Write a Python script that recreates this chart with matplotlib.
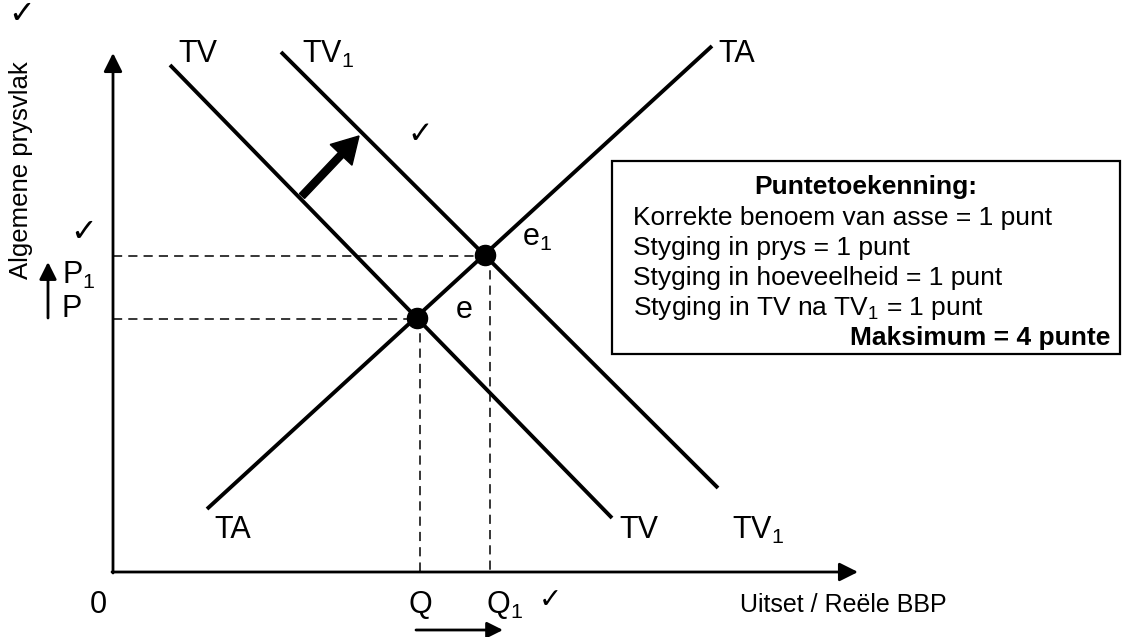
import matplotlib.pyplot as plt
import matplotlib as mpl
from matplotlib.patches import FancyArrow, Rectangle

mpl.rcParams['font.family'] = ['Liberation Sans', 'DejaVu Sans']
mpl.rcParams['mathtext.fontset'] = 'custom'
mpl.rcParams['mathtext.rm'] = 'Liberation Sans'
mpl.rcParams['mathtext.it'] = 'Liberation Sans'

# sketch coordinates (pixel grid of the original, y grows downwards)
origin = (113, 572)
x_axis_end = 858
y_axis_end = 53

# curves: x start, y start, x end, y end
tv_line = [170, 65, 612, 518]
tv1_line = [281, 52, 718, 488]
ta_line = [207, 509, 712, 46]

# equilibria e and e1
eq_x = [417, 485]
eq_y = [318, 255]
eq_names = ['e', 'e$_1$']
p_y = [319, 256]
q_x = [420, 490]

box_lines = ['Korrekte benoem van asse = 1 punt',
             'Styging in prys = 1 punt',
             'Styging in hoeveelheid = 1 punt',
             'Styging in TV na TV$_1$ = 1 punt']

fig = plt.figure(figsize=(11.29, 6.37), dpi=100)
ax = fig.add_axes([0, 0, 1, 1])
ax.set_xlim(0, 1129)
ax.set_ylim(637, 0)
ax.axis('off')

def arrow(x0, y0, x1, y1, lw=2, ms=28):
    ax.annotate('', xy=(x1, y1), xytext=(x0, y0),
                arrowprops=dict(arrowstyle='-|>', lw=lw, color='black',
                                mutation_scale=ms, shrinkA=0, shrinkB=0))

# axes
arrow(origin[0], origin[1] + 1, origin[0], y_axis_end)
arrow(origin[0] - 1, origin[1], x_axis_end, origin[1])

# curves
for ln in [tv_line, tv1_line, ta_line]:
    ax.plot([ln[0], ln[2]], [ln[1], ln[3]], color='black', lw=2.8, solid_capstyle='butt')

# dashed guides
for i in range(2):
    ax.plot([origin[0], eq_x[i]], [p_y[i], p_y[i]], color='black', lw=1.1, ls=(0, (6, 4)))
    ax.plot([q_x[i], q_x[i]], [eq_y[i], origin[1]], color='black', lw=1.1, ls=(0, (6, 4)))

ax.scatter(eq_x, eq_y, s=210, color='black', zorder=5)

fs = 22
ax.text(178, 54, 'TV', fontsize=fs, va='center', ha='left')
ax.text(302, 54, 'TV$_1$', fontsize=fs, va='center', ha='left')
ax.text(718, 54, 'TA', fontsize=fs, va='center', ha='left')
ax.text(214, 530, 'TA', fontsize=fs, va='center', ha='left')
ax.text(619, 530, 'TV', fontsize=fs, va='center', ha='left')
ax.text(732, 530, 'TV$_1$', fontsize=fs, va='center', ha='left')
ax.text(456, 310, eq_names[0], fontsize=fs, va='center', ha='left')
ax.text(522, 238, eq_names[1], fontsize=fs, va='center', ha='left')

ax.text(62, 275, 'P$_1$', fontsize=fs, va='center', ha='left')
ax.text(62, 309, 'P', fontsize=fs, va='center', ha='left')
arrow(48, 318, 48, 262, ms=26)

ax.text(90, 605, '0', fontsize=fs, va='center', ha='left')
ax.text(408, 605, 'Q', fontsize=fs, va='center', ha='left')
ax.text(486, 605, 'Q$_1$', fontsize=fs, va='center', ha='left')
ax.text(740, 605, 'Uitset / Re\u00eble BBP', fontsize=18, va='center', ha='left')
arrow(416, 630, 503, 630, ms=24)

ax.text(21, 170, 'Algemene prysvlak', fontsize=18.5, rotation=90, va='center', ha='center')

# ticks of the marker
ck = dict(va='center', ha='center', family=['DejaVu Sans'])
ax.text(22, 15, '\u2713', fontsize=23, **ck)
ax.text(84, 232, '\u2713', fontsize=23, **ck)
ax.text(420, 134, '\u2713', fontsize=22, **ck)
ax.text(550, 600, '\u2713', fontsize=20, **ck)

# shift of TV to TV1
ax.add_patch(FancyArrow(302, 196, 57, -60, width=7, head_width=30, head_length=26,
                        length_includes_head=True, color='black'))

# marking box
ax.add_patch(Rectangle((612, 161), 508, 193, fill=False, lw=1.6, color='black'))
ax.text(866, 187, 'Puntetoekenning:', fontsize=19, fontweight='bold', va='center', ha='center')
for i, t in enumerate(box_lines):
    ax.text(633, 218 + i * 30, t, fontsize=19, va='center', ha='left')
ax.text(1110, 338, 'Maksimum = 4 punte', fontsize=19, fontweight='bold', va='center', ha='right')

fig.savefig('out.png', dpi=100)
